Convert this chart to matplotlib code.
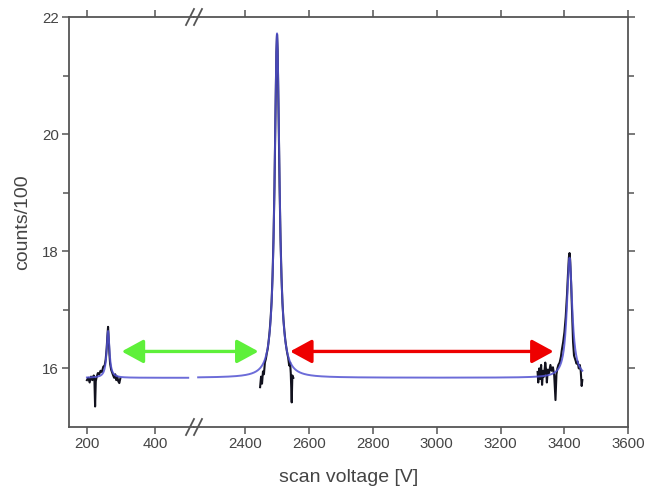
import numpy as np
import matplotlib
matplotlib.use("Agg")
import matplotlib.pyplot as plt
from matplotlib.lines import Line2D

plt.rcParams['font.family'] = ['Liberation Sans', 'DejaVu Sans']

# ---- data ----
# Lorentzian fit parameters (baseline, centres, amplitudes, HWHM)
fit_baseline = 15.84
fit_centers = [262, 2500, 3416]
fit_amps = [0.80, 5.88, 2.05]
fit_widths = [5.0, 9.0, 10.0]
fit_range_left = (200, 497)
fit_range_right = (2253, 3456)

# measured data (scan voltage, counts/100)
left_x = [200, 204, 208, 212, 216, 220, 222, 224, 226, 228, 232, 236, 240, 244, 248, 252,
          255, 258, 260, 262, 264, 266, 268, 271, 274, 277, 280, 283, 286, 289, 292, 295, 298]
left_y = [15.80, 15.84, 15.76, 15.86, 15.80, 15.88, 15.80, 15.35, 15.78, 15.84, 15.92, 15.90,
          15.96, 15.94, 16.03, 16.05, 16.15, 16.35, 16.55, 16.71, 16.50, 16.25, 16.08, 15.98,
          15.93, 15.88, 15.84, 15.90, 15.80, 15.86, 15.78, 15.75, 15.83]

mid_x = [2447, 2450, 2453, 2456, 2459, 2462, 2465, 2468, 2471, 2474, 2477, 2480, 2483, 2486,
         2489, 2492, 2495, 2498, 2500, 2502, 2505, 2508, 2511, 2514, 2517, 2520, 2523, 2526,
         2529, 2532, 2535, 2538, 2541, 2543, 2546, 2548, 2551]
mid_y = [15.68, 15.86, 15.74, 15.95, 15.90, 16.10, 16.16, 16.26, 16.34, 16.48, 16.64, 16.86,
         17.14, 17.58, 18.22, 19.10, 20.30, 21.40, 21.70, 21.42, 20.30, 19.10, 18.20, 17.56,
         17.12, 16.84, 16.64, 16.48, 16.36, 16.26, 16.18, 16.05, 16.10, 15.92, 15.42, 15.88, 15.84]

right_x = [3316, 3318, 3321, 3324, 3327, 3330, 3333, 3336, 3340, 3343, 3345, 3348, 3352, 3356,
           3360, 3364, 3368, 3372, 3375, 3378, 3381, 3385, 3389, 3392, 3396, 3400, 3404, 3408,
           3411, 3414, 3416, 3418, 3421, 3424, 3427, 3430, 3434, 3438, 3441, 3445, 3448, 3451,
           3454, 3456]
right_y = [15.94, 15.76, 16.00, 15.82, 16.06, 15.72, 15.96, 15.86, 16.10, 15.95, 15.76, 15.98,
           15.92, 16.06, 15.96, 16.02, 15.88, 15.46, 15.90, 16.00, 16.06, 16.10, 16.20, 16.32,
           16.45, 16.62, 16.88, 17.25, 17.60, 17.90, 17.97, 17.85, 17.45, 16.95, 16.45, 16.22,
           16.15, 16.08, 16.12, 16.00, 16.06, 15.96, 15.70, 15.80]

left_xticks = [200, 400]
right_xticks = [2400, 2600, 2800, 3000, 3200, 3400, 3600]
yticks = [16, 18, 20, 22]
yticks_minor = [17, 19, 21]

green_arrow = ((302, 16.29), (2442, 16.29))
red_arrow = ((2541, 16.29), (3366, 16.29))


def fit_curve(x):
    y = np.full_like(x, fit_baseline, dtype=float)
    for c, a, w in zip(fit_centers, fit_amps, fit_widths):
        y += a / (1 + ((x - c) / w) ** 2)
    return y


# ---- layout ----
W, H = 648, 492
fig = plt.figure(figsize=(W / 100, H / 100), dpi=100)
L, R = 68.5 / W, 628.3 / W
B, T = 1 - 427 / H, 1 - 17 / H
BRK = 194 / W
ax1 = fig.add_axes([L, B, BRK - L, T - B])
ax2 = fig.add_axes([BRK, B, R - BRK, T - B], sharey=ax1)

axcol = '#555555'
txtcol = '#444444'
for ax in (ax1, ax2):
    for s in ax.spines.values():
        s.set_color(axcol)
        s.set_linewidth(1.3)
    ax.tick_params(which='both', direction='out', color=axcol, labelcolor=txtcol,
                   labelsize=10.8, width=1.1, top=True, labeltop=False, pad=2)
    ax.tick_params(which='major', length=5)
    ax.tick_params(which='minor', length=4)

ax1.spines['right'].set_visible(False)
ax2.spines['left'].set_visible(False)
ax1.tick_params(axis='y', which='both', right=False, left=True)
ax2.tick_params(axis='y', which='both', left=False, right=True, labelleft=False, labelright=False)

ax1.set_xlim(146, 514)
ax2.set_xlim(2240, 3600)
ax1.set_ylim(15, 22)
ax1.set_xticks(left_xticks)
ax2.set_xticks(right_xticks)
ax1.set_yticks(yticks)
ax1.set_yticks(yticks_minor, minor=True)

black = '#12121e'
blue = '#5252d2'
ax1.plot(left_x, left_y, color=black, lw=1.5, zorder=2)
ax2.plot(mid_x, mid_y, color=black, lw=1.5, zorder=2)
ax2.plot(right_x, right_y, color=black, lw=1.5, zorder=2)

xl = np.linspace(*fit_range_left, 800)
xr = np.linspace(*fit_range_right, 6000)
ax1.plot(xl, fit_curve(xl), color=blue, lw=1.4, alpha=0.85, zorder=3)
ax2.plot(xr, fit_curve(xr), color=blue, lw=1.4, alpha=0.85, zorder=3)

# arrows
for (p0, p1), col in ((green_arrow, '#5ef03a'), (red_arrow, '#ee0000')):
    src_ax = ax1 if p0[0] < 1000 else ax2
    ax2.annotate('', xy=p1, xycoords='data', xytext=p0, textcoords=src_ax.transData,
                 arrowprops=dict(arrowstyle='<|-|>,head_length=1.1,head_width=0.6',
                                 mutation_scale=12, color=col, lw=2.4,
                                 shrinkA=0, shrinkB=0),
                 annotation_clip=False, zorder=5)

# break marks
for yb in (B, T):
    for dx in (-4, 4):
        x0 = BRK + (dx - 4) / W
        x1 = BRK + (dx + 4) / W
        fig.add_artist(Line2D([x0, x1], [yb - 8 / H, yb + 8 / H], color=axcol, lw=1.3,
                              transform=fig.transFigure))

ax1.set_ylabel('counts/100', fontsize=14, color=txtcol, labelpad=8)
fig.text((L + R) / 2, 1 - 478 / H, 'scan voltage [V]', ha='center', va='center',
         fontsize=14, color=txtcol)

fig.savefig('out.png', dpi=100)
